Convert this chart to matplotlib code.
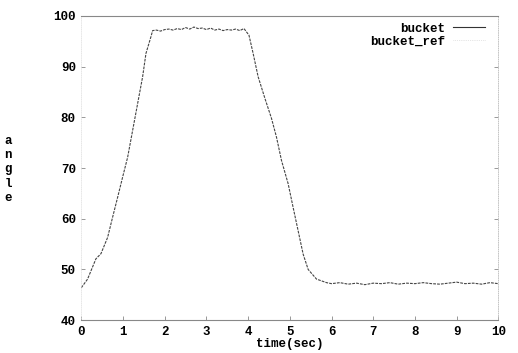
import matplotlib.pyplot as plt
from matplotlib.lines import Line2D

# bucket angle
t_rise = [0.0, 0.15, 0.35, 0.47, 0.63, 0.75, 0.87, 0.99, 1.11, 1.23, 1.35, 1.47, 1.55, 1.67, 1.71]
a_rise = [46.4, 48.1, 52.1, 53.1, 56.3, 60.3, 64.2, 68.2, 72.1, 77.4, 82.7, 88.0, 92.6, 95.9, 97.1]

t_top = [1.8, 1.9, 2.0, 2.1, 2.2, 2.3, 2.4, 2.5, 2.6, 2.7, 2.8, 2.9, 3.0, 3.1, 3.2, 3.3,
         3.4, 3.5, 3.6, 3.7, 3.8, 3.9]
a_top = [97.2, 97.0, 97.3, 97.4, 97.2, 97.5, 97.3, 97.7, 97.4, 97.8, 97.5, 97.6, 97.3, 97.6,
         97.2, 97.4, 97.1, 97.3, 97.2, 97.4, 97.1, 97.5]

t_fall = [4.02, 4.12, 4.24, 4.40, 4.56, 4.68, 4.80, 4.96, 5.08, 5.20, 5.32, 5.44, 5.64, 5.88]
a_fall = [96.2, 92.6, 88.0, 83.8, 79.8, 76.1, 71.5, 66.9, 62.2, 57.6, 53.0, 50.0, 48.1, 47.4]

t_tail = [6.0, 6.2, 6.4, 6.6, 6.8, 7.0, 7.2, 7.4, 7.6, 7.8, 8.0, 8.2, 8.4, 8.6, 8.8, 9.0,
          9.2, 9.4, 9.6, 9.8, 10.0]
a_tail = [47.2, 47.4, 47.1, 47.3, 47.0, 47.3, 47.2, 47.4, 47.1, 47.3, 47.2, 47.4, 47.2, 47.1,
          47.3, 47.5, 47.2, 47.3, 47.1, 47.4, 47.2]

time = t_rise + t_top + t_fall + t_tail
angle = a_rise + a_top + a_fall + a_tail

x_ticks = [0, 1, 2, 3, 4, 5, 6, 7, 8, 9, 10]
y_ticks = [40, 50, 60, 70, 80, 90, 100]

font = {'family': 'Liberation Mono', 'weight': 'bold', 'size': 9}

fig = plt.figure(figsize=(5.18, 3.53), dpi=100)
ax = fig.add_axes([0.157, 0.093, 0.805, 0.862])

ax.plot(time, angle, color='#444444', lw=0.8, linestyle=(0, (2.5, 1.0)))

ax.set_xlim(0, 10)
ax.set_ylim(40, 100)
ax.set_xticks(x_ticks)
ax.set_yticks(y_ticks)
ax.set_xticklabels([str(v) for v in x_ticks], fontdict=font)
ax.set_yticklabels([str(v) for v in y_ticks], fontdict=font)
ax.tick_params(direction='in', length=3, width=0.6, color='#888888', pad=4,
               right=True, top=False)

for side in ['top', 'bottom']:
    ax.spines[side].set_color('#888888')
    ax.spines[side].set_linewidth(0.8)
ax.spines['right'].set_color('#bbbbbb')
ax.spines['right'].set_linewidth(0.6)
ax.spines['right'].set_linestyle(':')
ax.spines['left'].set_color('#dddddd')
ax.spines['left'].set_linewidth(0.5)
ax.spines['left'].set_linestyle(':')

ax.set_xlabel('time(sec)', fontdict=font, labelpad=0)
fig.text(0.016, 0.52, 'a\nn\ng\nl\ne', ha='center', va='center',
         linespacing=1.25, **font)

handles = [Line2D([], [], color='#333333', lw=0.8),
           Line2D([], [], color='#cccccc', lw=0.5, linestyle=':')]
ax.legend(handles, ['bucket', 'bucket_ref'], loc='upper right', frameon=False,
          markerfirst=False, handlelength=2.6, handletextpad=0.6, labelspacing=0.05,
          borderaxespad=0.15, bbox_to_anchor=(0.985, 1.0),
          prop={'family': 'Liberation Mono', 'weight': 'bold', 'size': 9})

fig.savefig('out.png', dpi=100)
